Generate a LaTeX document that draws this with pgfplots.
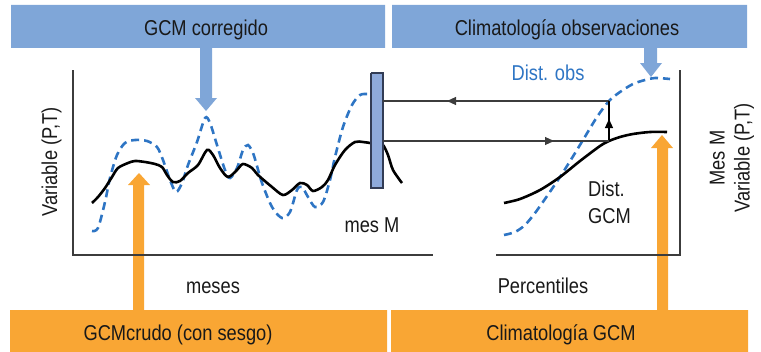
\documentclass[border=0pt]{standalone}
\usepackage{pgfplots}
\pgfplotsset{compat=1.18}
\usetikzlibrary{arrows.meta}
\usepackage{fontspec}
\setmainfont{Liberation Sans}[FakeStretch=0.85]
\definecolor{boxblue}{RGB}{127,166,216}
\definecolor{boxorange}{RGB}{249,166,52}
\definecolor{dashblue}{RGB}{46,117,196}
\definecolor{barblue}{RGB}{142,170,219}
\definecolor{barline}{RGB}{50,60,85}
\definecolor{axgray}{RGB}{60,60,60}
\definecolor{txt}{RGB}{25,25,25}
\newcommand\lab{\fontsize{21.5bp}{25bp}\selectfont}
\begin{document}
\begin{tikzpicture}
\begin{axis}[at={(0,0)},anchor=south west,
  width=761bp,height=352bp,scale only axis,
  xmin=0,xmax=761,ymin=0,ymax=352,y dir=reverse,
  axis lines=none,ticks=none,clip=false,
  every axis plot/.append style={mark=none}]
% boxes
\addplot[fill=boxblue,draw=none] coordinates {(11,5)(385,5)(385,48)(11,48)(11,5)};
\addplot[fill=boxblue,draw=none] coordinates {(392,5)(747,5)(747,48)(392,48)(392,5)};
\addplot[fill=boxorange,draw=none] coordinates {(10,310)(387,310)(387,352)(10,352)(10,310)};
\addplot[fill=boxorange,draw=none] coordinates {(391,310)(748,310)(748,352)(391,352)(391,310)};
% thick arrows
\addplot[fill=boxblue,draw=none] coordinates {(200,47)(212,47)(212,98)(217,98)(206,111)(195,98)(200,98)(200,47)};
\addplot[fill=boxblue,draw=none] coordinates {(644,47)(657,47)(657,63)(662,63)(651,77)(640,63)(644,63)(644,47)};
\addplot[fill=boxorange,draw=none] coordinates {(133,311)(144,311)(144,185)(150,185)(139,173)(128,185)(133,185)(133,311)};
\addplot[fill=boxorange,draw=none] coordinates {(657,311)(668,311)(668,148)(673,148)(662,135)(651,148)(657,148)(657,311)};
% frames
\addplot[axgray,line width=1.3bp] coordinates {(73,70)(73,255)(433,255)};
\addplot[axgray,line width=1.3bp] coordinates {(496,255)(680,255)(680,70)};
% left panel: corrected (dashed) and raw GCM (solid)
\addplot[dashblue,line width=2.6bp,dash pattern=on 8bp off 5bp,smooth] coordinates {
(92,231)(98,228)(105,202)(110,178)(117,155)(125,143)(135,140)(147,141)(157,147)(163,160)(170,180)(176,192)(182,183)(188,165)(197,142)(205,118)(210,123)(217,145)(225,170)(230,178)(237,168)(243,150)(248,145)(253,153)(257,166)(262,183)(272,207)(282,218)(290,212)(297,190)(302,187)(308,197)(315,207)(323,202)(330,180)(335,157)(343,127)(352,105)(360,95)(368,94)(371,94)};
\addplot[black,line width=2.6bp,smooth] coordinates {
(92,203)(98,197)(105,188)(112,177)(118,168)(128,163)(135,161)(145,162)(155,164)(162,167)(167,175)(173,182)(180,181)(188,173)(198,165)(207,150)(213,155)(220,168)(228,177)(237,170)(243,164)(252,168)(258,175)(272,187)(283,195)(292,190)(300,183)(307,185)(313,191)(322,187)(328,180)(335,165)(345,150)(355,142)(363,142)(370,143)(377,144)(383,145)(388,155)(393,170)(402,183)};
% month bar
\addplot[fill=barblue,draw=barline,line width=1.3bp] coordinates {(371,73)(383,73)(383,188)(371,188)(371,73)};
% right panel: distributions
\addplot[dashblue,line width=2.6bp,dash pattern=on 8bp off 5bp,smooth] coordinates {
(504,235)(515,232)(525,225)(535,213)(545,199)(560,177)(572,158)(583,140)(597,117)(609,101)(620,92)(633,84)(645,80)(655,78)(670,79)};
\addplot[black,line width=2.6bp,smooth] coordinates {
(504,203)(520,199)(540,190)(560,177)(580,161)(600,146)(609,141)(620,137)(633,134)(650,132)(667,132)};
% mapping lines
\addplot[axgray,line width=1.1bp,-{Triangle[length=9bp,width=8bp]}] coordinates {(609,101)(447,101)};
\addplot[axgray,line width=1.1bp] coordinates {(452,101)(383,101)};
\addplot[black,line width=1.1bp,-{Triangle[length=9bp,width=8bp]}] coordinates {(609,141)(609,119)};
\addplot[black,line width=1.1bp] coordinates {(609,124)(609,101)};
\addplot[axgray,line width=1.1bp,-{Triangle[length=9bp,width=8bp]}] coordinates {(383,141)(554,141)};
\addplot[axgray,line width=1.1bp] coordinates {(549,141)(609,141)};
% texts
\node[anchor=base,text=txt,font=\lab] at (axis cs:206,35) {GCM corregido};
\node[anchor=base,text=txt,font=\lab] at (axis cs:567,35) {Climatología observaciones};
\node[anchor=base,text=txt,font=\lab] at (axis cs:178,340) {GCMcrudo (con sesgo)};
\node[anchor=base,text=txt,font=\lab] at (axis cs:561,340) {Climatología GCM};
\node[anchor=base,text=dashblue,font=\lab] at (axis cs:548,80) {Dist. obs};
\node[anchor=base west,text=txt,font=\lab,inner sep=0pt] at (axis cs:588,196) {Dist.};
\node[anchor=base west,text=txt,font=\lab,inner sep=0pt] at (axis cs:588,223) {GCM};
\node[anchor=base,text=txt,font=\lab] at (axis cs:372,232) {mes M};
\node[anchor=base,text=txt,font=\lab] at (axis cs:213,293) {meses};
\node[anchor=base,text=txt,font=\lab] at (axis cs:543,293) {Percentiles};
\node[anchor=base,rotate=90,text=txt,font=\lab] at (axis cs:57,162) {Variable (P,T)};
\node[rotate=90,text=txt,font=\lab,align=center,inner sep=0pt] at (axis cs:732,158) {Mes M\\Variable (P,T)};
\end{axis}
\pgfresetboundingbox
\path (0,0) rectangle (761bp,352bp);
\end{tikzpicture}
\end{document}
